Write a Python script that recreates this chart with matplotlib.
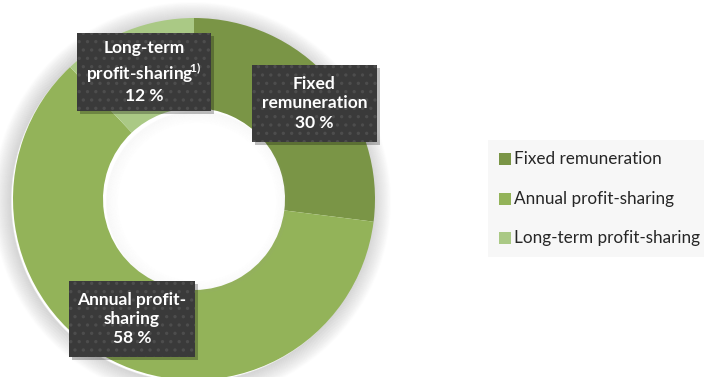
import numpy as np
import matplotlib
matplotlib.use("Agg")
import matplotlib.pyplot as plt
from matplotlib.patches import Wedge, Rectangle

plt.rcParams['font.family'] = ['Lato', 'DejaVu Sans']
plt.rcParams['mathtext.fontset'] = 'custom'
plt.rcParams['mathtext.rm'] = 'Lato:bold'
plt.rcParams['hatch.linewidth'] = 1.2

# data
categories = ['Fixed remuneration', 'Annual profit-sharing', 'Long-term profit-sharing']
shares = [27, 61, 12]          # slice sizes as drawn
label_texts = ['Fixed\nremuneration\n30 %',
               'Annual profit-\nsharing\n58 %',
               'Long-term\nprofit-sharing$\\!^{1)}$\n12 %']
colors = ['#7a9546', '#93b359', '#aac985']

W, H = 704, 377
fig = plt.figure(figsize=(W / 100, H / 100), dpi=100)
ax = fig.add_axes([0, 0, 1, 1])

cx, cy = 194, H - 199
R, r_in = 181, 91

# soft outer shadow
for k in range(18):
    ax.add_patch(Wedge((cx - 2, cy - 2), R + 18 - k, 0, 360, width=1.5,
                       color='#a8a8a8', alpha=0.04 * (k + 1) / 2, lw=0, zorder=1))

ax.pie(shares, colors=colors, startangle=90, counterclock=False,
       center=(cx, cy), radius=R, frame=True,
       wedgeprops=dict(width=R - r_in, linewidth=0, zorder=2))
ax.set_xlim(0, W)
ax.set_ylim(0, H)
ax.axis('off')

# inner shadow inside the hole
for k in range(12):
    ax.add_patch(Wedge((cx + 3, cy - 3), r_in - k, 0, 360, width=1.2,
                       color='#a0a0a0', alpha=0.05 * (12 - k) / 12, lw=0, zorder=3))

# label boxes (x0, y0_top, x1, y1_bottom) in pixels
boxes = [(252, 65, 377, 142), (69, 281, 195, 357), (77, 33, 211, 111)]
for (x0, y0, x1, y1), txt in zip(boxes, label_texts):
    w, h = x1 - x0, y1 - y0
    ax.add_patch(Rectangle((x0 + 3, H - y1 - 3), w, h, color='#000000', alpha=0.25,
                           lw=0, zorder=4))
    ax.add_patch(Rectangle((x0, H - y1), w, h, facecolor='#3a3a3a', edgecolor='#4d4d4d',
                           hatch='..', lw=0, zorder=5))
    ax.text((x0 + x1) / 2, H - (y0 + y1) / 2, txt, color='white', fontsize=12.5,
            fontweight='bold', ha='center', va='center', linespacing=1.25, zorder=6)

# legend
ax.add_patch(Rectangle((488, H - 257), W - 488, 117, color='#f7f7f7', lw=0, zorder=1))
rows_y = [159, 199, 238]
for cat, col, yy in zip(categories, colors, rows_y):
    ax.add_patch(Rectangle((499, H - yy - 6), 12, 12, color=col, lw=0, zorder=2))
    ax.text(514, H - yy, cat, fontsize=12.3, color='#262626', ha='left',
            va='center', zorder=2)

fig.savefig('out.png', dpi=100)
